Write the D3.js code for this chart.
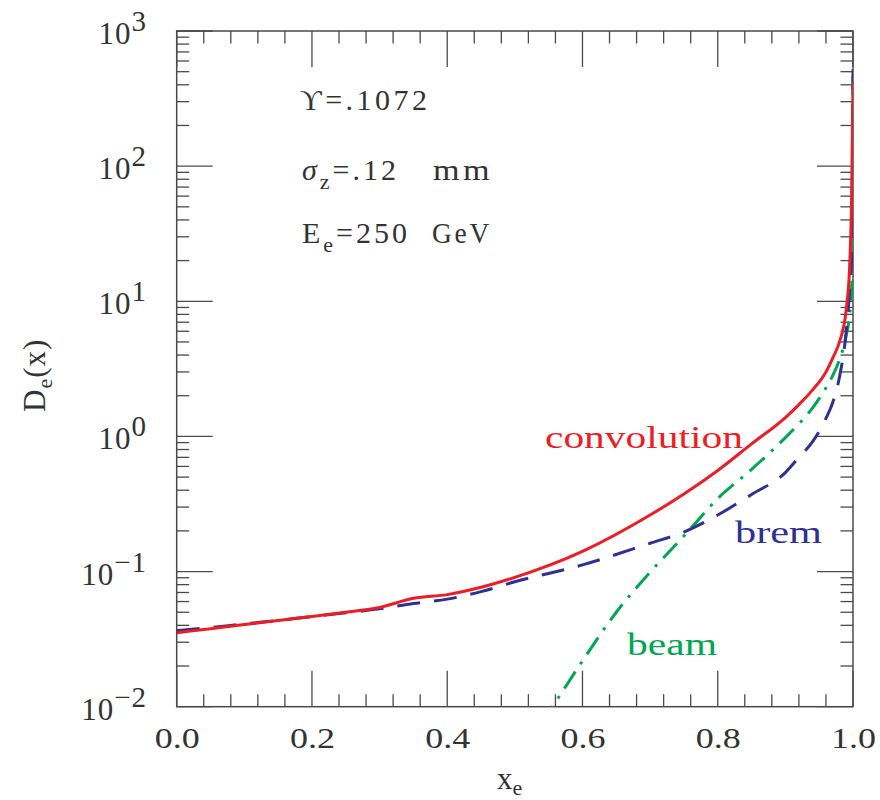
<!DOCTYPE html>
<html>
<head>
<meta charset="utf-8">
<script src="https://cdn.jsdelivr.net/npm/d3@7"></script>
<style>
  body { margin: 0; background: #fff; }
  text { font-family: "Liberation Serif", "DejaVu Serif", serif; fill: #333; white-space: pre; }
</style>
</head>
<body>
<svg id="chart" width="880" height="800"></svg>
<script>
// data
const xTicks = [0, 0.2, 0.4, 0.6, 0.8, 1.0];
const xTickLabels = ['0.0', '0.2', '0.4', '0.6', '0.8', '1.0'];
const yExponents = [-2, -1, 0, 1, 2, 3];

const convX = [0, 0.05, 0.1, 0.15, 0.2, 0.25, 0.3, 0.35, 0.4, 0.45, 0.5, 0.6, 0.7, 0.75, 0.8, 0.85, 0.9, 0.92, 0.94, 0.96, 0.97, 0.98, 0.99, 0.995, 0.998, 1.0];
const convY = [0.0353, 0.0378, 0.0405, 0.0435, 0.0465, 0.0500, 0.0542, 0.0635, 0.0675, 0.0765, 0.0906, 0.141, 0.262, 0.375, 0.56, 0.88, 1.38, 1.72, 2.2, 3.0, 3.8, 5.0, 8.7, 18, 60, 415];

const bremX = [0, 0.05, 0.1, 0.15, 0.2, 0.25, 0.3, 0.35, 0.4, 0.45, 0.5, 0.6, 0.7, 0.75, 0.8, 0.85, 0.9, 0.92, 0.94, 0.96, 0.97, 0.98, 0.99, 0.995, 0.998, 1.0];
const bremY = [0.0366, 0.0385, 0.041, 0.0435, 0.0465, 0.0495, 0.053, 0.058, 0.0625, 0.071, 0.084, 0.112, 0.162, 0.196, 0.262, 0.372, 0.54, 0.70, 0.91, 1.36, 1.78, 2.75, 6.0, 12, 22, 520];

const beamX = [0.54, 0.56, 0.6, 0.65, 0.7, 0.75, 0.8, 0.85, 0.9, 0.92, 0.94, 0.96, 0.97, 0.98, 0.99, 0.995, 0.998, 0.9995, 1.0];
const beamY = [0.0076, 0.0108, 0.0218, 0.050, 0.099, 0.183, 0.347, 0.57, 0.98, 1.24, 1.62, 2.29, 2.82, 3.7, 5.6, 7.9, 12.6, 25, 480];

const series = [
  { name: 'convolution', xs: convX, ys: convY, color: '#ee1c25', dash: null, label: [545, 448, 198] },
  { name: 'brem', xs: bremX, ys: bremY, color: '#2e3192', dash: '23,14', label: [735, 543, 87] },
  { name: 'beam', xs: beamX, ys: beamY, color: '#00a651', dash: '20,9,3,9', label: [627, 655, 90] }
];

const svg = d3.select('#chart');
const box = { left: 176.7, right: 853, top: 31, bottom: 706.7 };
const major = 36, minor = 12.5;
const axisColor = '#4a4a4a';

const xScale = d3.scaleLinear().domain([0, 1]).range([box.left, box.right]);
const yScale = d3.scaleLog().domain([1e-2, 1e3]).range([box.bottom, box.top]);

svg.append('clipPath').attr('id', 'plot')
  .append('rect')
  .attr('x', box.left).attr('y', box.top)
  .attr('width', box.right - box.left).attr('height', box.bottom - box.top);

// frame
svg.append('rect')
  .attr('x', box.left).attr('y', box.top)
  .attr('width', box.right - box.left).attr('height', box.bottom - box.top)
  .attr('fill', 'none')
  .attr('stroke', axisColor)
  .attr('stroke-width', 1.5);

// x ticks (bottom + top), minor every 0.04
const xMinor = d3.range(0, 26).map(i => i * 0.04);
const tickG = svg.append('g').attr('stroke', axisColor).attr('stroke-width', 1.3);
xMinor.forEach(function(v) {
  const isMajor = xTicks.some(t => Math.abs(t - v) < 1e-6);
  const len = isMajor ? major : minor;
  const px = xScale(v);
  tickG.append('line').attr('x1', px).attr('x2', px).attr('y1', box.bottom).attr('y2', box.bottom - len);
  tickG.append('line').attr('x1', px).attr('x2', px).attr('y1', box.top).attr('y2', box.top + len);
});

// y ticks (left + right)
const yMinor = yScale.ticks();
yMinor.forEach(function(v) {
  const e = Math.log10(v);
  const isMajor = Math.abs(e - Math.round(e)) < 1e-6;
  const len = isMajor ? major : minor;
  const py = yScale(v);
  tickG.append('line').attr('x1', box.left).attr('x2', box.left + len).attr('y1', py).attr('y2', py);
  tickG.append('line').attr('x1', box.right).attr('x2', box.right - len).attr('y1', py).attr('y2', py);
});

// tick labels
svg.selectAll('.xlab')
  .data(xTicks)
  .enter()
  .append('text')
  .attr('class', 'xlab')
  .attr('x', d => xScale(d) - 22)
  .attr('y', 748)
  .attr('font-size', 30)
  .attr('textLength', 45)
  .attr('lengthAdjust', 'spacingAndGlyphs')
  .text((d, i) => xTickLabels[i]);

const yLab = svg.selectAll('.ylab')
  .data(yExponents)
  .enter()
  .append('text')
  .attr('class', 'ylab')
  .attr('x', 147)
  .attr('y', d => yScale(Math.pow(10, d)) + 13)
  .attr('text-anchor', 'end')
  .attr('font-size', 31)
  .attr('letter-spacing', 1);
yLab.append('tspan').text('10');
yLab.append('tspan')
  .attr('dy', -13)
  .attr('font-size', 29)
  .text(d => d < 0 ? '\u2212' + (-d) : String(d));

// curves
const line = d3.line()
  .curve(d3.curveMonotoneX)
  .x(d => xScale(d[0]))
  .y(d => yScale(d[1]));
const curveG = svg.append('g').attr('clip-path', 'url(#plot)');
series.slice().reverse().forEach(function(s) {
  curveG.append('path')
    .datum(s.xs.map((x, i) => [x, s.ys[i]]))
    .attr('d', line)
    .attr('fill', 'none')
    .attr('stroke', s.color)
    .attr('stroke-width', 3)
    .attr('stroke-dasharray', s.dash);
});

// curve labels
series.forEach(function(s) {
  svg.append('text')
    .attr('x', s.label[0])
    .attr('y', s.label[1])
    .attr('font-size', 31)
    .attr('textLength', s.label[2])
    .attr('lengthAdjust', 'spacingAndGlyphs')
    .style('fill', s.color)
    .text(s.name);
});

// annotations
svg.append('text')
  .attr('x', 300).attr('y', 110)
  .attr('font-size', 30)
  .attr('letter-spacing', 3.5)
  .text('\u03D2=.1072');

const ann2 = svg.append('text').attr('y', 180).attr('font-size', 30).attr('letter-spacing', 3);
ann2.append('tspan').attr('x', 302).style('font-style', 'italic').text('\u03C3');
ann2.append('tspan').attr('dy', 9).attr('font-size', 22).text('z');
ann2.append('tspan').attr('dy', -9).text('=.12');
ann2.append('tspan').attr('x', 433).attr('textLength', 60).attr('lengthAdjust', 'spacingAndGlyphs').text('mm');

const ann3 = svg.append('text').attr('y', 243).attr('font-size', 30).attr('letter-spacing', 3);
ann3.append('tspan').attr('x', 302).text('E');
ann3.append('tspan').attr('dy', 9).attr('font-size', 22).text('e');
ann3.append('tspan').attr('dy', -9).text('=250');
ann3.append('tspan').attr('x', 432).attr('textLength', 60).attr('lengthAdjust', 'spacingAndGlyphs').text('GeV');

// axis titles
const xt = svg.append('text').attr('x', 497).attr('y', 789).attr('font-size', 31);
xt.append('tspan').text('x');
xt.append('tspan').attr('dy', 6).attr('font-size', 22).text('e');

const yt = svg.append('text')
  .attr('transform', 'translate(45,412) rotate(-90)')
  .attr('font-size', 31)
  .attr('letter-spacing', 1);
yt.append('tspan').text('D');
yt.append('tspan').attr('dy', 7).attr('font-size', 22).text('e');
yt.append('tspan').attr('dy', -7).text('(x)');
</script>
</body>
</html>
